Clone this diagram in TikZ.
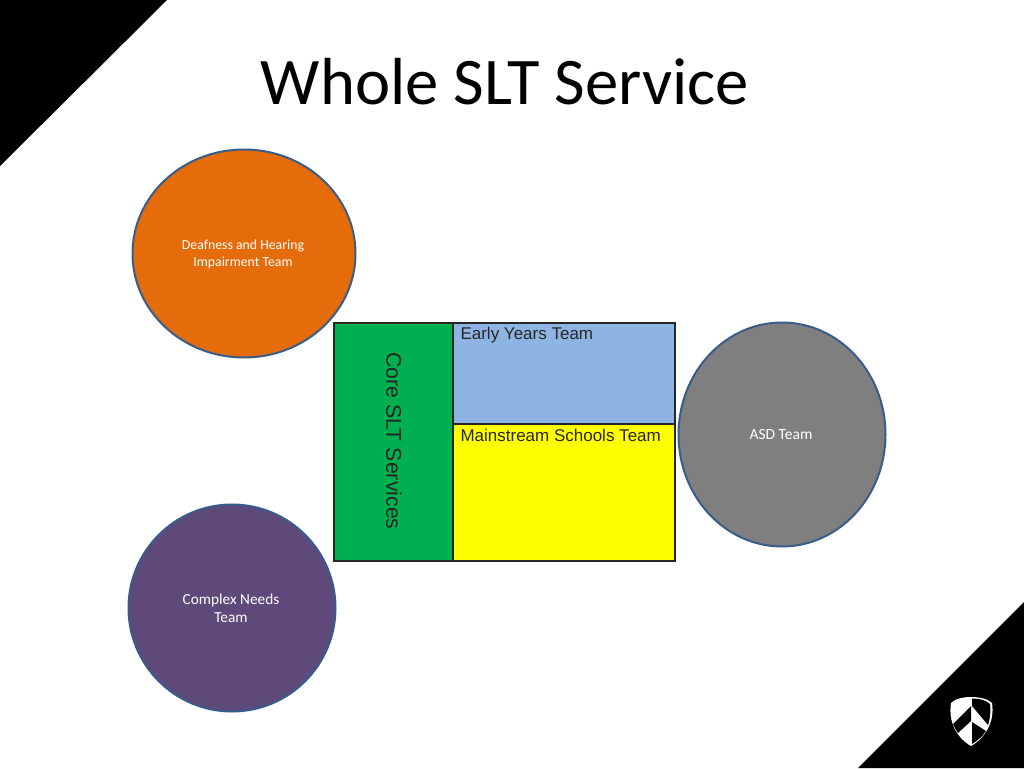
\documentclass[tikz,border=0pt]{standalone}
\usepackage{fontspec}
\setmainfont{Carlito}
\newfontfamily\boxfont{Liberation Sans}
\usetikzlibrary{positioning, shapes.geometric}

\definecolor{teamline}{HTML}{385D8A}
\definecolor{deafcol}{HTML}{E46C0A}
\definecolor{complexcol}{HTML}{5F497A}
\definecolor{asdcol}{HTML}{7F7F7F}
\definecolor{corecol}{HTML}{00B050}
\definecolor{earlycol}{HTML}{8EB4E3}
\definecolor{maincol}{HTML}{FFFF00}

\tikzset{
  team/.style={ellipse, draw=teamline, line width=2pt, inner sep=0pt},
  teamlabel/.style={text=white, align=center},
  panel/.style={rectangle, draw=black!85, line width=1.5pt, inner sep=0pt, outer sep=0pt, anchor=north west},
  panellabel/.style={font=\boxfont\fontsize{17}{19}\selectfont, anchor=west, text=black!85},
  corner/.style={fill=black, draw=none}
}

\begin{document}
\begin{tikzpicture}[x=1pt, y=-1pt]
  \useasboundingbox (0,0) rectangle (1024,768);

  % Esquinas negras de la diapositiva.
  \fill[corner] (0,0) -- (167,0) -- (0,166) -- cycle;
  \fill[corner] (1024,602) -- (1024,768) -- (858,768) -- cycle;

  % Titulo.
  \node[font=\fontsize{66.6}{70}\selectfont] (title) at (505,82) {Whole SLT Service};

  % Equipos.
  \node[team, fill=deafcol, minimum width=223pt, minimum height=208pt] (deaf) at (244,253.5) {};
  \node[team, fill=complexcol, minimum width=207pt, minimum height=207pt] (complex) at (232,608) {};
  \node[team, fill=asdcol, minimum width=207pt, minimum height=224pt] (asd) at (782,434.5) {};
  \node[teamlabel, font=\fontsize{13.8}{17}\selectfont] (deaflabel) at (243,254) {Deafness and Hearing\\Impairment Team};
  \node[teamlabel, font=\fontsize{15.3}{18}\selectfont] (complexlabel) at (231,608) {Complex Needs\\Team};
  \node[teamlabel, font=\fontsize{15.5}{17}\selectfont] (asdlabel) at (781,435) {ASD Team};

  % Bloque central.
  \node[panel, fill=corecol, minimum width=119pt, minimum height=238pt] (core) at (334,323) {};
  \node[panel, fill=earlycol, minimum width=222pt, minimum height=101pt] (early) at (453,323) {};
  \node[panel, fill=maincol, minimum width=222pt, minimum height=137pt] (main) at (453,424) {};
  \node[font=\boxfont\fontsize{21.3}{23}\selectfont, rotate=-90, text=black!85] (corelabel) at (394,441) {Core SLT Services};
  \node[panellabel] (earlylabel) at (457,335) {Early Years Team};
  \node[panellabel] (mainlabel) at (457,435) {Mainstream Schools Team};

  % Escudo.
  \fill[white] (951,703) .. controls (958,695) and (984,695) .. (992,703)
    .. controls (995,722) and (985,738) .. (971,746)
    .. controls (957,738) and (948,722) .. (951,703) -- cycle;
  \fill[black] (972,698.5) .. controls (979,698.5) and (986,700) .. (990,704)
    .. controls (991,712) and (990,719) .. (988,725)
    -- (972,706) -- cycle;
  \fill[black] (971,706) -- (971,721) -- (958,733) .. controls (956,730) and (954,727) .. (953,724) -- cycle;
  \fill[black] (972,722) -- (986,731) .. controls (983,736) and (977,741) .. (972,744) -- cycle;
\end{tikzpicture}
\end{document}
